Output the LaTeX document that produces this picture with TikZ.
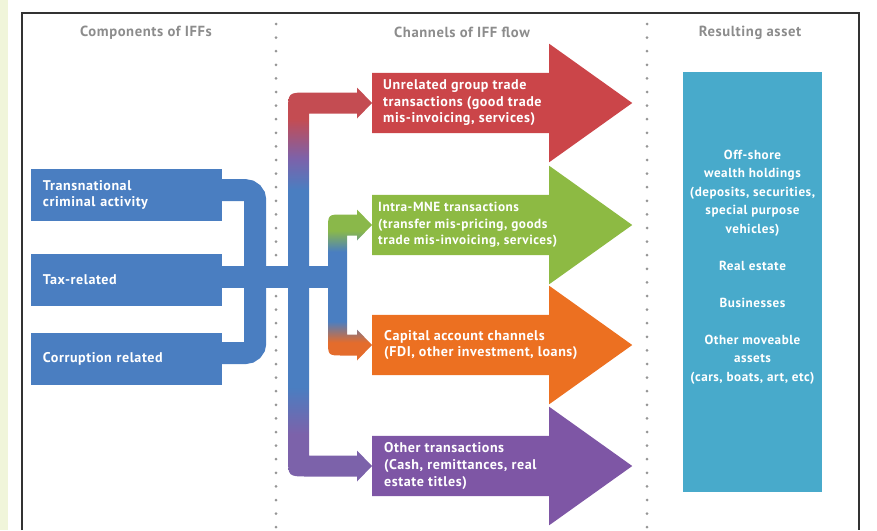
\documentclass[tikz,border=0pt]{standalone}
\usepackage{fontspec}
\setmainfont[LetterSpace=4]{PT Sans}
\usepackage{tikz}
\usetikzlibrary{calc,shapes.arrows}

\definecolor{srcblue}{RGB}{74,126,193}
\definecolor{chanred}{RGB}{203,69,73}
\definecolor{changreen}{RGB}{141,186,67}
\definecolor{chanorange}{RGB}{236,112,33}
\definecolor{chanpurple}{RGB}{126,86,165}
\definecolor{assetteal}{RGB}{72,170,203}
\definecolor{headgray}{RGB}{140,140,140}
\definecolor{dotgray}{RGB}{150,150,150}
\definecolor{stripgreen}{RGB}{240,245,218}
\definecolor{flowred}{RGB}{196,76,82}
\definecolor{flowpurple}{RGB}{124,98,170}
\definecolor{flowgreen}{RGB}{138,184,74}
\definecolor{floworange}{RGB}{228,108,44}

\pgfdeclareverticalshading{outerflow}{100bp}{color(0bp)=(flowpurple); color(31bp)=(flowpurple); color(37bp)=(srcblue); color(62bp)=(srcblue); color(66bp)=(flowpurple); color(71bp)=(flowred); color(100bp)=(flowred)}
\pgfdeclareverticalshading{innerflow}{100bp}{color(0bp)=(floworange); color(31bp)=(floworange); color(38bp)=(srcblue); color(61bp)=(srcblue); color(68bp)=(flowgreen); color(100bp)=(flowgreen)}

\tikzset{
  heading/.style={text=headgray, font=\bfseries\fontsize{12.5}{14}\selectfont},
  srcbox/.style={fill=srcblue, text=white, minimum width=5.73cm, minimum height=1.56cm,
    text width=5.01cm, inner xsep=0.36cm, inner ysep=0pt, align=left,
    font=\bfseries\fontsize{12}{13.7}\selectfont},
  srcline/.style={srcblue, line width=0.66cm, rounded corners=0.3cm},
  chanarrow/.style={single arrow, single arrow head extend=0.87cm, single arrow tip angle=71,
    minimum width=3.54cm, minimum height=7.8cm, inner xsep=0pt, inner ysep=0.9cm, anchor=tail},
  chantext/.style={anchor=west, align=left, text=white, inner sep=0pt,
    font=\bfseries\fontsize{12}{14.1}\selectfont},
  assetbox/.style={fill=assetteal, minimum width=4.17cm, minimum height=12.6cm, inner sep=0pt},
  assettext/.style={align=center, text=white, inner sep=0pt,
    font=\bfseries\fontsize{11.2}{15.8}\selectfont}
}

\begin{document}
\begin{tikzpicture}[x=0.03cm, y=-0.03cm]
\useasboundingbox (0,0) rectangle (877,530);
\fill[stripgreen] (0,0) rectangle (8,530);
\draw[black!80, line width=0.06cm] (22,530) -- (22,12.5) -- (859,12.5) -- (859,530);

\foreach \k in {0,...,37} {
    \fill[dotgray] (276,24+13.6*\k) circle (0.045cm);
    \fill[dotgray] (647,24+13.6*\k) circle (0.045cm);
}

\node[heading] (hcomp) at (146,32.5) {Components of IFFs};
\node[heading] (hchan) at (462,32.5) {Channels of IFF flow};
\node[heading] (hasset) at (750,32.5) {Resulting asset};

\node[srcbox] (crime) at (126.5,194.5) {Transnational\\criminal activity};
\node[srcbox] (tax) at (126.5,279.5) {Tax-related};
\node[srcbox] (corrupt) at (126.5,359) {Corruption related};

\node[chanarrow, fill=chanred] (unrel) at (372,103) {};
\node[chanarrow, fill=changreen] (intra) at (372,225) {};
\node[chanarrow, fill=chanorange] (capital) at (372,345) {};
\node[chanarrow, fill=chanpurple] (other) at (372,466) {};

\coordinate (hubin) at (337.5,276.5);
\draw[srcline] ([yshift=0.13cm]crime.east) -- ++(33,0) |- ([yshift=0.18cm]corrupt.east);
\draw[srcline] ([yshift=0.09cm]tax.east) -- (hubin);

\shade[shading=outerflow] (357,92.5) -- (308,92.5) .. controls (288,92.5) .. (288,112.5)
    -- (288,456.5) .. controls (288,476.5) .. (308,476.5) -- (357,476.5) -- (357,481.5)
    -- (other.tail) -- (357,450.5) -- (357,455.5) -- (309,455.5) -- (309,113.5)
    -- (357,113.5) -- (357,118.5) -- (unrel.tail) -- (357,87.5) -- cycle;
\shade[shading=innerflow] (357,214.5) -- (343,214.5) .. controls (328,214.5) .. (328,229.5)
    -- (328,340.5) .. controls (328,355.5) .. (343,355.5) -- (357,355.5) -- (357,360.5)
    -- (capital.tail) -- (357,329.5) -- (357,334.5) -- (347,334.5) -- (347,235.5)
    -- (357,235.5) -- (357,240.5) -- (intra.tail) -- (357,209.5) -- cycle;

\node[chantext] (unrellbl) at ([xshift=0.33cm]unrel.tail) {Unrelated group trade\\transactions (good trade\\mis-invoicing, services)};
\node[chantext, font=\bfseries\fontsize{11.3}{14.1}\selectfont] (intralbl) at ([xshift=0.18cm]intra.tail) {Intra-MNE transactions\\(transfer mis-pricing, goods\\trade mis-invoicing, services)};
\node[chantext] (capitallbl) at ([xshift=0.36cm]capital.tail) {Capital account channels\\(FDI, other investment, loans)};
\node[chantext] (otherlbl) at ([xshift=0.36cm]other.tail) {Other transactions\\(Cash, remittances, real\\estate titles)};

\node[assetbox] (assets) at (752.5,282) {};
\node[assettext] (assetlbl) at (752.5,267) {Off-shore\\wealth holdings\\(deposits, securities,\\special purpose\\vehicles)\\[15.8pt]Real estate\\[15.8pt]Businesses\\[15.8pt]Other moveable\\assets\\(cars, boats, art, etc)};
\end{tikzpicture}
\end{document}
